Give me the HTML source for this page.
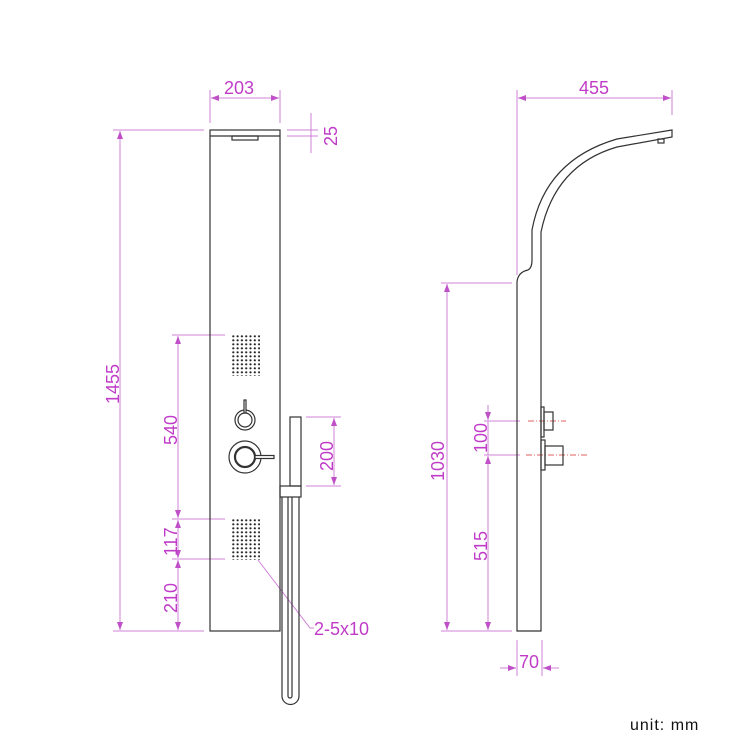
<!DOCTYPE html>
<html><head><meta charset="utf-8"><style>
html,body{margin:0;padding:0;background:#fff;}
svg{display:block;}
text{font-family:"Liberation Sans",sans-serif;fill:#c03cc8;font-size:18px;}
</style></head><body>
<svg width="750" height="750" viewBox="0 0 750 750" xmlns="http://www.w3.org/2000/svg">
<defs>
<pattern id="dots" x="232" y="335" width="4.3" height="4" patternUnits="userSpaceOnUse">
<circle cx="1.3" cy="1.3" r="1.1" fill="#222"/>
</pattern>
<marker id="a" markerWidth="8" markerHeight="6" refX="8" refY="3" orient="auto-start-reverse" markerUnits="userSpaceOnUse"><path d="M0,0 L8,3 L0,6 z" fill="#c050c8"/></marker>
</defs>
<g stroke="#d080d8" stroke-width="1" fill="none">
<line x1="210" y1="90" x2="210" y2="123"/><line x1="280" y1="90" x2="280" y2="123"/>
<line x1="211" y1="98" x2="279" y2="98" marker-start="url(#a)" marker-end="url(#a)"/>
<line x1="287" y1="130" x2="318" y2="130"/><line x1="287" y1="136" x2="318" y2="136"/>
<line x1="311" y1="113" x2="311" y2="153"/>
<line x1="113" y1="130" x2="204" y2="130"/><line x1="113" y1="631" x2="204" y2="631"/>
<line x1="120" y1="131" x2="120" y2="630" marker-start="url(#a)" marker-end="url(#a)"/>
<line x1="172" y1="335" x2="225" y2="335"/><line x1="172" y1="519" x2="225" y2="519"/><line x1="172" y1="559" x2="225" y2="559"/>
<line x1="178" y1="336" x2="178" y2="518" marker-start="url(#a)" marker-end="url(#a)"/>
<line x1="178" y1="520" x2="178" y2="558" marker-start="url(#a)" marker-end="url(#a)"/>
<line x1="178" y1="560" x2="178" y2="630" marker-start="url(#a)" marker-end="url(#a)"/>
<line x1="306" y1="417" x2="341" y2="417"/><line x1="306" y1="486" x2="341" y2="486"/>
<line x1="334" y1="418" x2="334" y2="485" marker-start="url(#a)" marker-end="url(#a)"/>
<polyline points="258,560 310,628 314,628"/>
<line x1="517" y1="90" x2="517" y2="275"/><line x1="672" y1="90" x2="672" y2="115"/>
<line x1="518" y1="98" x2="671" y2="98" marker-start="url(#a)" marker-end="url(#a)"/>
<line x1="441" y1="283" x2="512" y2="283"/><line x1="441" y1="631" x2="512" y2="631"/>
<line x1="447" y1="284" x2="447" y2="630" marker-start="url(#a)" marker-end="url(#a)"/>
<line x1="484" y1="421" x2="520" y2="421"/><line x1="484" y1="455" x2="520" y2="455"/>
<line x1="488" y1="405" x2="488" y2="420" marker-end="url(#a)"/>
<line x1="488" y1="456" x2="488" y2="630" marker-start="url(#a)" marker-end="url(#a)"/>
<line x1="488" y1="421" x2="488" y2="455"/>
<line x1="517" y1="640" x2="517" y2="676"/><line x1="542" y1="640" x2="542" y2="676"/>
<line x1="500" y1="668" x2="516" y2="668" marker-end="url(#a)"/><line x1="559" y1="668" x2="543" y2="668" marker-end="url(#a)"/>
</g>
<g stroke="#e06060" stroke-width="1" stroke-dasharray="6,2,1,2">
<line x1="528" y1="421" x2="566" y2="421"/><line x1="526" y1="455" x2="588" y2="455"/>
</g>
<g stroke="#333" stroke-width="1.2" fill="none">
<rect x="210" y="130" width="70" height="501"/>
<line x1="210" y1="136" x2="280" y2="136"/>
<rect x="232" y="136" width="26" height="4"/>
<circle cx="245" cy="420" r="10"/><circle cx="245" cy="420" r="7"/>
<rect x="244" y="400" width="2" height="13" fill="#fff"/>
<circle cx="245" cy="457" r="16"/><circle cx="245" cy="457" r="10" stroke-width="2.2"/>
<rect x="255" y="455.5" width="19" height="3" fill="#fff"/>
<rect x="290" y="417" width="11" height="69"/>
<rect x="280" y="486" width="21" height="11"/>
<path d="M282,497 V696 A8.5,8.5 0 0 0 299,696 V497"/>
<path d="M288,497 V696 A2,2 0 0 0 292,696 V497"/>
</g>
<rect x="232" y="335" width="28" height="41" fill="url(#dots)"/>
<rect x="232" y="518" width="28" height="42" fill="url(#dots)"/>
<g stroke="#333" stroke-width="1.2" fill="none">
<path d="M517,631 V282 Q518,272 528,270 Q532,268 532,260 V230 Q545,160 617,139 L672,130 V137 L617,147 Q555,165 541,232 V631 Z"/>
<rect x="658" y="139" width="6" height="4"/>
<rect x="541" y="407" width="3" height="30"/><rect x="544" y="412" width="9" height="18"/>
<rect x="541" y="440" width="4" height="30"/><rect x="545" y="446" width="18" height="19"/>
</g>
<text x="224" y="94">203</text>
<text transform="translate(337,146) rotate(-90)">25</text>
<text transform="translate(119,404) rotate(-90)">1455</text>
<text transform="translate(177,445) rotate(-90)">540</text>
<text transform="translate(177,556) rotate(-90)">117</text>
<text transform="translate(177,613) rotate(-90)">210</text>
<text transform="translate(333,471) rotate(-90)">200</text>
<text x="314" y="635">2-5x10</text>
<text x="579" y="94">455</text>
<text transform="translate(444,481) rotate(-90)">1030</text>
<text transform="translate(487,453) rotate(-90)">100</text>
<text transform="translate(487,561) rotate(-90)">515</text>
<text x="519" y="668">70</text>
<text x="630" y="730" style="fill:#111;font-size:16px;letter-spacing:1px">unit: mm</text>
</svg>
</body></html>
